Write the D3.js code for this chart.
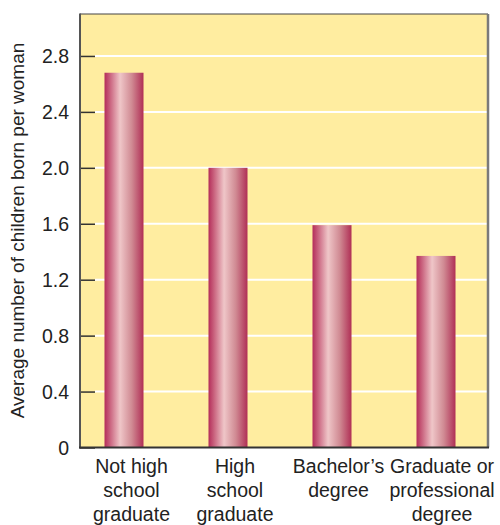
<!DOCTYPE html>
<html>
<head>
<meta charset="utf-8">
<script src="https://cdn.jsdelivr.net/npm/d3@7"></script>
<style>
  html, body { margin: 0; padding: 0; background: #fff; }
  svg { display: block; }
  text { font-family: "Liberation Sans", Arial, Helvetica, sans-serif; fill: #222; }
</style>
</head>
<body>
<svg id="chart" width="500" height="525"></svg>
<script>
// Average number of children born per woman, by education level
const categories = [
  ["Not high", "school", "graduate"],
  ["High", "school", "graduate"],
  ["Bachelor\u2019s", "degree"],
  ["Graduate or", "professional", "degree"]
];
const values = [2.68, 2.0, 1.59, 1.37];
const yTicks = [0, 0.4, 0.8, 1.2, 1.6, 2.0, 2.4, 2.8];
const yTitle = "Average number of children born per woman";

const svg = d3.select("#chart");
const plot = { left: 80, right: 487, top: 14, bottom: 447.5 };
const keys = categories.map((c, i) => i);

const y = d3.scaleLinear().domain([0, 3.1]).range([plot.bottom, plot.top]);
const xBar = d3.scalePoint().domain(keys).range([124, 436]);
const xLabel = d3.scalePoint().domain(keys).range([131.5, 442]);
const barWidth = 39;

// horizontal cylinder-like shading for the bars
const defs = svg.append("defs");
const grad = defs.append("linearGradient").attr("id", "barGrad")
  .attr("x1", "0%").attr("x2", "100%").attr("y1", "0%").attr("y2", "0%");
[["0%", "#b42d5a"], ["12%", "#c65a78"], ["40%", "#efc6c8"], ["70%", "#d08a93"], ["100%", "#b02f55"]]
  .forEach(([o, c]) => grad.append("stop").attr("offset", o).attr("stop-color", c));

// plot background
svg.append("rect")
  .attr("x", plot.left).attr("y", plot.top)
  .attr("width", plot.right - plot.left).attr("height", plot.bottom - plot.top)
  .attr("fill", "#ffeda0");

// white gridlines
svg.append("g").selectAll("line").data(yTicks.filter(d => d > 0)).join("line")
  .attr("x1", plot.left + 15).attr("x2", plot.right)
  .attr("y1", d => y(d)).attr("y2", d => y(d))
  .attr("stroke", "#ffffff").attr("stroke-width", 2);

// bars
svg.append("g").selectAll("rect").data(values).join("rect")
  .attr("x", (d, i) => xBar(i) - barWidth / 2)
  .attr("width", barWidth)
  .attr("y", d => y(d))
  .attr("height", d => y(0) - y(d))
  .attr("fill", "url(#barGrad)");

// frame: top and right borders
svg.append("line")
  .attr("x1", plot.left).attr("x2", plot.right + 1)
  .attr("y1", plot.top).attr("y2", plot.top)
  .attr("stroke", "#444").attr("stroke-width", 1.2);
svg.append("line")
  .attr("x1", plot.right + 1).attr("x2", plot.right + 1)
  .attr("y1", plot.top).attr("y2", plot.bottom)
  .attr("stroke", "#7a7a7a").attr("stroke-width", 2.5);

// y axis with inward ticks
const yAxis = d3.axisRight(y).tickValues(yTicks).tickSize(15).tickFormat("");
const gy = svg.append("g").attr("transform", `translate(${plot.left},0)`).call(yAxis);
gy.select(".domain").remove();
gy.selectAll(".tick line").attr("stroke", "#333").attr("stroke-width", 1.5);

svg.append("g").selectAll("text").data(yTicks).join("text")
  .attr("x", 69).attr("y", d => y(d))
  .attr("dy", "0.36em")
  .attr("text-anchor", "end")
  .style("font-size", "19.5px")
  .text(d => d === 0 ? "0" : d3.format(".1f")(d));

// axis lines
svg.append("line")
  .attr("x1", plot.left).attr("x2", plot.left)
  .attr("y1", plot.top - 0.5).attr("y2", plot.bottom + 1)
  .attr("stroke", "#555").attr("stroke-width", 2);
svg.append("line")
  .attr("x1", plot.left - 1).attr("x2", plot.right + 2)
  .attr("y1", plot.bottom).attr("y2", plot.bottom)
  .attr("stroke", "#333").attr("stroke-width", 2);

// category labels
const lab = svg.append("g").selectAll("text").data(categories).join("text")
  .attr("text-anchor", "middle")
  .style("font-size", "19.5px");
lab.each(function(lines, i) {
  d3.select(this).selectAll("tspan").data(lines).join("tspan")
    .attr("x", xLabel(i))
    .attr("y", (d, j) => 473 + j * 24)
    .text(d => d);
});

// y axis title
svg.append("text")
  .attr("transform", `translate(24,${(35 + 426) / 2}) rotate(-90)`)
  .attr("text-anchor", "middle")
  .style("font-size", "19px")
  .text(yTitle);
</script>
</body>
</html>
